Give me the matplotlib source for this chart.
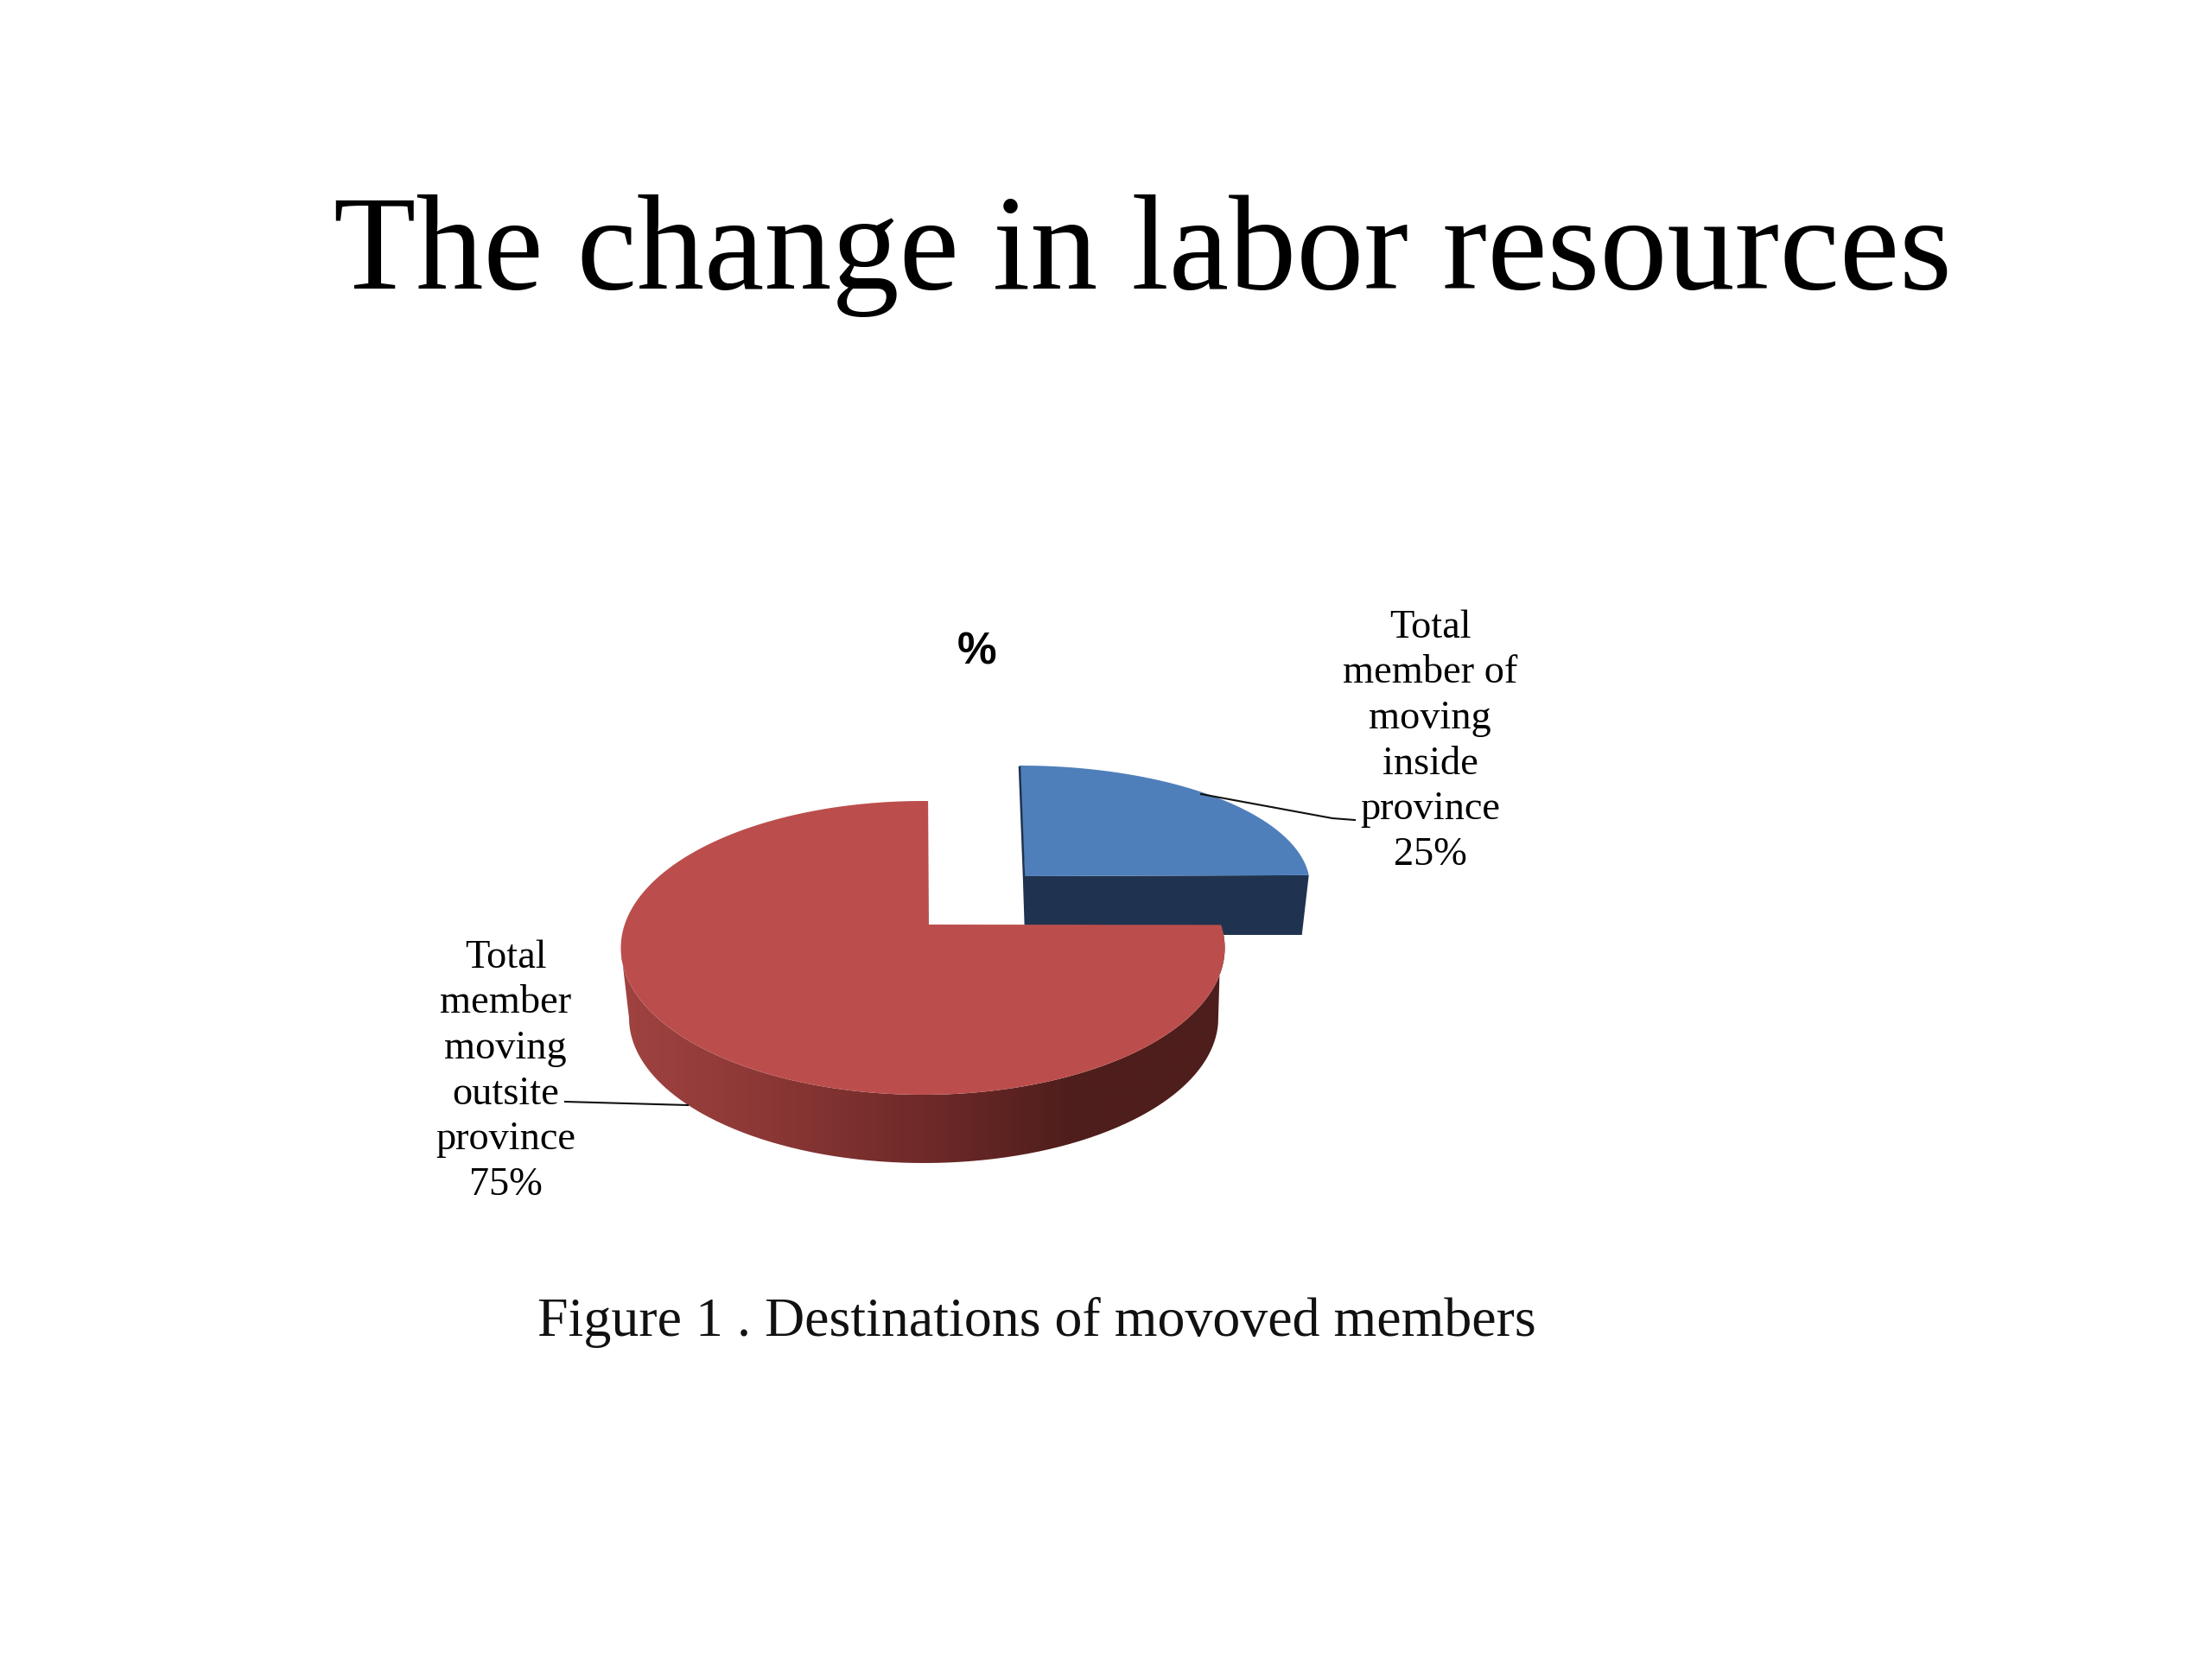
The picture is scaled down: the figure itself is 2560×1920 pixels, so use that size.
import numpy as np
import matplotlib
matplotlib.use("Agg")
import matplotlib.pyplot as plt
from matplotlib.path import Path
from matplotlib.patches import PathPatch
from matplotlib.colors import LinearSegmentedColormap

title = "The change in labor resources"
chart_title = "%"
caption = "Figure 1 . Destinations of movoved members"
categories = ["Total\nmember of\nmoving\ninside\nprovince", "Total\nmember\nmoving\noutsite\nprovince"]
shares = [25, 75]
top_colors = ["#4f7fba", "#bb4e4c"]
side_color = "#1f3350"

fig = plt.figure(figsize=(25.6, 19.2), dpi=100, facecolor="white")
ax = fig.add_axes([0, 0, 1, 1])
ax.set_xlim(0, 2560)
ax.set_ylim(1920, 0)
ax.axis("off")

SERIF = "Liberation Serif"


def arc(cx, cy, rx, ry, t0, t1, n=240):
    t = np.radians(np.linspace(t0, t1, n))
    return np.column_stack([cx + rx * np.cos(t), cy - ry * np.sin(t)])


sweeps = [360 * s / sum(shares) for s in shares]

# inside-province slice (exploded towards the upper right)
b_sweep = sweeps[0] - 5
b_top = arc(1180, 1025, 336, 139, 90 - b_sweep, 90)
b_apex = np.array([[1186, 1014]])
tip = b_top[0]
ax.fill(*np.vstack([[tip], [[tip[0] - 8, 1082]], [[1186, 1082]], b_apex]).T,
        color=side_color, lw=0, zorder=1)
ax.fill(*np.vstack([b_top, b_apex]).T, color=top_colors[0], lw=0, zorder=2)
ax.plot([1180, 1185, 1187], [888, 1014, 1075], color=side_color, lw=1.8, zorder=2.1)

# outside-province slice
r_start = 89
r_end = 90 + sweeps[1] + 9
r_top = arc(1068, 1097, 349.5, 170, r_start, r_end)
r_apex = np.array([[1075, 1070]])
side_upper = arc(1068, 1097, 349.5, 170, 180, r_end)
side_lower = arc(1069, 1178, 341, 168, 360, 180)
side_poly = np.vstack([side_upper, side_lower])
side_cmap = LinearSegmentedColormap.from_list(
    "side", ["#a04341", "#8a3735", "#6f2a29", "#4e1e1c", "#4e1e1c"])
grad = np.linspace(0, 1, 512)[None, :]
im = ax.imshow(grad, cmap=side_cmap, extent=(719, 1420, 1360, 1060),
               aspect="auto", zorder=3)
clip = PathPatch(Path(side_poly), transform=ax.transData, fc="none", ec="none")
ax.add_patch(clip)
im.set_clip_path(clip)
ax.set_xlim(0, 2560)
ax.set_ylim(1920, 0)
ax.fill(*np.vstack([r_top, r_apex]).T, color=top_colors[1], lw=0, zorder=4)

# leader lines
ax.plot([1390, 1542, 1568], [919, 947, 949], color="#111111", lw=1.5, zorder=5)
ax.plot([654, 796], [1275, 1279], color="#111111", lw=1.5, zorder=5)

# texts
ax.text(1322, 334, title, family=SERIF, fontsize=112.4, color="black",
        ha="center", va="baseline")
ax.text(1131, 755, chart_title, family="Liberation Sans", fontweight="bold",
        fontsize=37, color="black", ha="center", va="center")
label_style = dict(family=SERIF, fontsize=33.4, color="black", ha="center",
                   va="center", multialignment="center", linespacing=1.31)
ax.text(1655, 858, f"{categories[0]}\n{shares[0]}%", **label_style)
ax.text(585, 1240, f"{categories[1]}\n{shares[1]}%", **label_style)
ax.text(1200, 1546, caption, family=SERIF, fontsize=46, color="#111111",
        ha="center", va="baseline")

fig.savefig("out.png", dpi=100, facecolor="white")
